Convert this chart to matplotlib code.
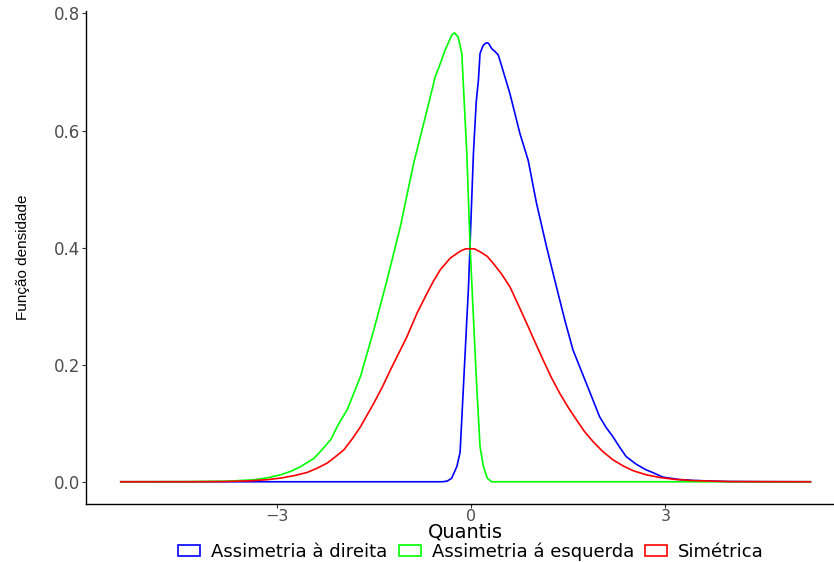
import matplotlib.pyplot as plt
from matplotlib.patches import Patch

# dados (quantis, densidade)
x_dir = [-5.41, -0.45, -0.37, -0.30, -0.22, -0.17, -0.118, -0.066, -0.04, 0.036, 0.08, 0.113,
         0.138, 0.18, 0.21, 0.241, 0.27, 0.318, 0.37, 0.42, 0.5, 0.6, 0.754, 0.882, 1.01, 1.165,
         1.318, 1.45, 1.574, 1.78, 1.985, 2.09, 2.19, 2.30, 2.395, 2.55, 2.70, 2.80, 2.96, 3.2,
         3.42, 3.93, 4.5, 5.24]
y_dir = [0.0, 0.0, 0.001, 0.006, 0.026, 0.05, 0.163, 0.277, 0.333, 0.561, 0.65, 0.686,
         0.7315, 0.744, 0.748, 0.750, 0.749, 0.740, 0.735, 0.729, 0.700, 0.663, 0.595, 0.549, 0.476, 0.4015,
         0.333, 0.275, 0.225, 0.168, 0.111, 0.092, 0.077, 0.058, 0.043, 0.030, 0.0205, 0.016, 0.008, 0.004,
         0.0023, 0.0005, 0.0001, 0.0]

x_esq = [-5.41, -4.3, -3.76, -3.35, -3.14, -2.94, -2.78, -2.63, -2.426, -2.30, -2.169, -2.04,
         -1.913, -1.708, -1.503, -1.297, -1.092, -0.887, -0.68, -0.554, -0.477, -0.40, -0.35,
         -0.30, -0.257, -0.20, -0.143, -0.118, -0.066, -0.015, 0.062, 0.087, 0.138, 0.19, 0.25,
         0.318, 5.24]
y_esq = [0.0, 0.0003, 0.001, 0.0034, 0.0068, 0.012, 0.018, 0.026, 0.040, 0.055, 0.0717, 0.100,
         0.123, 0.180, 0.259, 0.345, 0.436, 0.544, 0.635, 0.692, 0.714, 0.738, 0.750,
         0.763, 0.767, 0.760, 0.7315, 0.675, 0.561, 0.4015, 0.22, 0.163, 0.060, 0.026, 0.006,
         0.0, 0.0]

x_sim = [-5.41, -4.3, -3.8, -3.4, -3.15, -2.94, -2.73, -2.53, -2.38, -2.22, -2.07, -1.964,
         -1.83, -1.708, -1.503, -1.37, -1.246, -1.12, -0.99, -0.835, -0.68, -0.58, -0.477,
         -0.323, -0.22, -0.15, -0.08, 0.05, 0.138, 0.25, 0.343, 0.47, 0.6, 0.73, 0.857, 0.99,
         1.113, 1.24, 1.37, 1.5, 1.626, 1.75, 1.88, 2.03, 2.19, 2.35, 2.5, 2.7, 2.91, 3.15,
         3.42, 4.0, 5.24]
y_sim = [0.0, 0.00005, 0.0004, 0.0017, 0.0035, 0.0063, 0.0105, 0.016, 0.023, 0.032, 0.045, 0.0546,
         0.074, 0.094, 0.134, 0.162, 0.191, 0.219, 0.248, 0.288, 0.322, 0.343, 0.362,
         0.382, 0.390, 0.395, 0.398, 0.398, 0.393, 0.385, 0.373, 0.355, 0.333, 0.302, 0.271, 0.238,
         0.208, 0.178, 0.151, 0.127, 0.106, 0.086, 0.069, 0.052, 0.0375, 0.027, 0.019, 0.012, 0.0074, 0.004,
         0.002, 0.0003, 0.0]

nomes = ['Assimetria à direita', 'Assimetria á esquerda', 'Simétrica']
cores = ['#0000FF', '#00FF00', '#FF0000']

fig = plt.figure(figsize=(8.34, 5.62), dpi=100)
ax = fig.add_axes([0.1031, 0.1032, 0.910, 0.878])

ax.plot(x_dir, y_dir, color=cores[0], lw=1.2)
ax.plot(x_esq, y_esq, color=cores[1], lw=1.2)
ax.plot(x_sim, y_sim, color=cores[2], lw=1.2)

ax.set_xlim(-5.947, 5.773)
ax.set_ylim(-0.038, 0.805)
ax.set_xticks([-3, 0, 3])
ax.set_xticklabels(['\u22123', '0', '3'])
ax.set_yticks([0.0, 0.2, 0.4, 0.6, 0.8])
ax.set_yticklabels(['0.0', '0.2', '0.4', '0.6', '0.8'])

for s in ['top', 'right']:
    ax.spines[s].set_visible(False)
for s in ['left', 'bottom']:
    ax.spines[s].set_color('black')
    ax.spines[s].set_linewidth(1.0)
ax.tick_params(length=3, width=0.8, color='#333333', labelcolor='#4D4D4D')
ax.tick_params(axis='x', labelsize=11.5, pad=0.5)
ax.tick_params(axis='y', labelsize=12, pad=1)

ax.set_xlabel('Quantis', fontsize=14, va='baseline')
ax.xaxis.set_label_coords(0.5, -0.0669)
ax.set_ylabel('Função densidade', fontsize=11, family='Liberation Sans', va='center')
ax.yaxis.set_label_coords(-0.083, 0.5)

# legenda
alcas = [Patch(facecolor='none', edgecolor=c, lw=1.2) for c in cores]
fig.legend(alcas, nomes, loc='center', bbox_to_anchor=(0.5647, 0.0178), ncol=3,
           frameon=False, fontsize=13, handlelength=1.22, handleheight=0.55,
           handletextpad=0.61, columnspacing=0.61, borderpad=0)

fig.savefig('out.png', dpi=100)
